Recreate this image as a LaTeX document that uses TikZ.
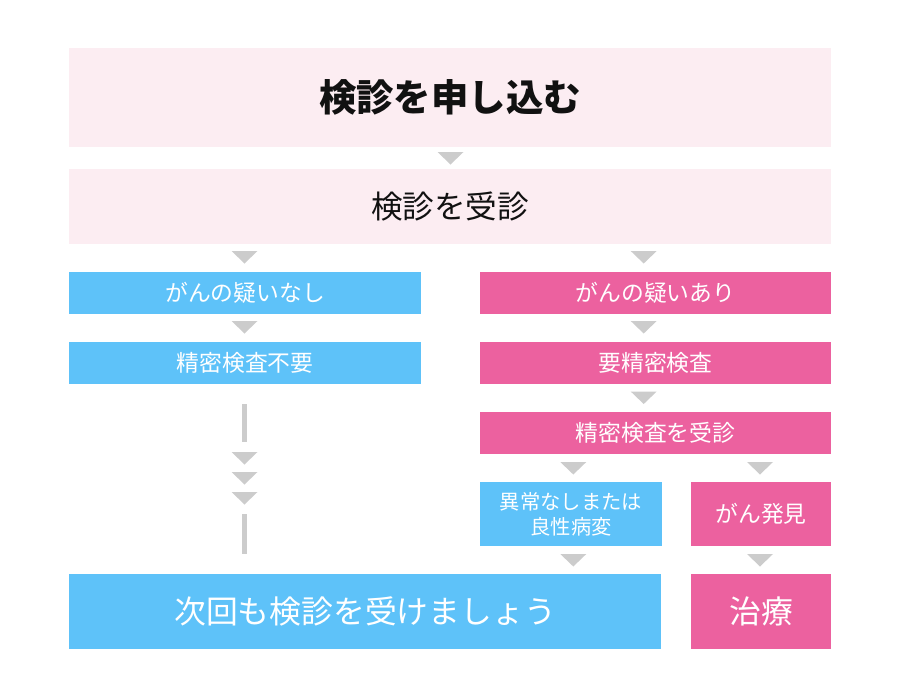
\documentclass[tikz,border=0pt]{standalone}
\usepackage{fontspec}
\setmainfont{Noto Sans CJK JP}
\definecolor{lpink}{HTML}{FCEDF2}
\definecolor{cblue}{HTML}{5EC2F9}
\definecolor{cpink}{HTML}{EC619F}
\definecolor{cgray}{HTML}{CCCCCC}
\definecolor{ctext}{HTML}{111111}
\tikzset{
  box/.style={anchor=north west, inner sep=0pt, outer sep=0pt, align=center},
  headbox/.style={box, fill=lpink, text=ctext},
  bluebox/.style={box, fill=cblue, text=white},
  pinkbox/.style={box, fill=cpink, text=white},
  smalltext/.style={font=\fontsize{22.8}{26}\selectfont},
  bigtext/.style={font=\fontsize{31.8}{35}\selectfont},
  downtri/.pic={\fill[cgray] (-13,0) -- (13,0) -- (0,12.5) -- cycle;},
}
\begin{document}
\begin{tikzpicture}[x=1pt,y=-1pt]
\useasboundingbox (0,0) rectangle (900,697);
% boxes
\node[headbox, minimum width=762pt, minimum height=99pt, font=\fontsize{37.4}{40}\selectfont\bfseries] (top) at (69,48) {検診を申し込む};
\node[headbox, minimum width=762pt, minimum height=75pt, font=\fontsize{31.6}{35}\selectfont] (jushin) at (69,169) {検診を受診};
\node[bluebox, smalltext, minimum width=352pt, minimum height=42pt] (a1) at (69,272) {がんの疑いなし};
\node[bluebox, smalltext, minimum width=352pt, minimum height=42pt] (a2) at (69,342) {精密検査不要};
\node[pinkbox, smalltext, minimum width=351pt, minimum height=42pt] (b1) at (480,272) {がんの疑いあり};
\node[pinkbox, smalltext, minimum width=351pt, minimum height=42pt] (b2) at (480,342) {要精密検査};
\node[pinkbox, smalltext, minimum width=351pt, minimum height=42pt] (b3) at (480,412) {精密検査を受診};
\node[bluebox, minimum width=182pt, minimum height=64pt, font=\fontsize{20.3}{25}\selectfont] (c1) at (480,482) {異常なしまたは\\良性病変};
\node[pinkbox, smalltext, minimum width=140pt, minimum height=64pt] (c2) at (691,482) {がん発見};
\node[bluebox, bigtext, minimum width=592pt, minimum height=75pt] (d1) at (69,574) {次回も検診を受けましょう};
\node[pinkbox, bigtext, minimum width=140pt, minimum height=75pt] (d2) at (691,574) {治療};
% arrows (triangles)
\pic at (450.5,152) {downtri};
\pic at (244.5,251) {downtri};
\pic at (643.7,251) {downtri};
\pic at (244.5,321) {downtri};
\pic at (643.7,321) {downtri};
\pic at (643.7,391.5) {downtri};
\pic at (573.3,462) {downtri};
\pic at (760,462) {downtri};
\pic at (573.3,554) {downtri};
\pic at (760,554) {downtri};
% left skip line
\coordinate (l1s) at (244.5,404);
\coordinate (l1e) at (244.5,442);
\coordinate (l2s) at (244.5,514);
\coordinate (l2e) at (244.5,553.5);
\draw[cgray, line width=4.7pt] (l1s) -- (l1e);
\draw[cgray, line width=4.7pt] (l2s) -- (l2e);
\pic at (244.5,452) {downtri};
\pic at (244.5,472) {downtri};
\pic at (244.5,492) {downtri};
\end{tikzpicture}
\end{document}
